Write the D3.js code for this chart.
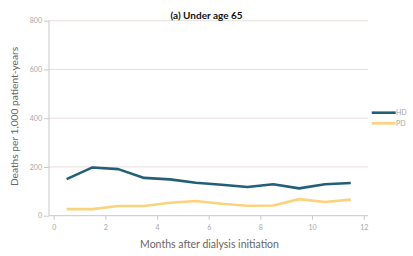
<!DOCTYPE html>
<html><head><meta charset="utf-8">
<script src="https://cdn.jsdelivr.net/npm/d3@7"></script>
<style>body{margin:0;background:#fff}svg{display:block}</style>
</head><body>
<svg id="c" width="413" height="256"></svg>
<script>
const months = [0.5,1.5,2.5,3.5,4.5,5.5,6.5,7.5,8.5,9.5,10.5,11.5];
const hdValues = [150,198,191,155,149,135,127,118,129,112,129,134];
const pdValues = [27,27,40,40,53,60,49,41,42,68,56,66];
const seriesNames = ["HD","PD"];
const seriesColors = ["#22607A","#FDD27D"];
const xTicks = [0,2,4,6,8,10,12];
const yTicks = [0,200,400,600,800];
const title = "(a) Under age 65";
const xTitle = "Months after dialysis initiation";
const yTitle = "Deaths per 1,000 patient-years";

const svg = d3.select("#c");
const x = d3.scaleLinear().domain([0,12]).range([53.7,363.7]);
const y = d3.scaleLinear().domain([0,800]).range([215.7,20.7]);
const left = 49, right = 368;
const tickColor = "#A6A6A6", axisColor = "#C8C8C8";

// gridlines
svg.append("g").selectAll("line").data(yTicks.filter(d=>d>0)).join("line")
  .attr("x1",left).attr("x2",right).attr("y1",d=>y(d)).attr("y2",d=>y(d))
  .attr("stroke","#EBDFDC").attr("stroke-width",1);

// y axis
const ya = svg.append("g").attr("transform",`translate(${left},0)`)
  .call(d3.axisLeft(y).tickValues(yTicks).tickSize(5).tickPadding(2).tickFormat(d3.format("d")));
ya.select(".domain").attr("stroke",axisColor).attr("d",`M0,${y(800)}V${y(0)}`);
ya.selectAll(".tick line").attr("stroke",axisColor);
ya.selectAll("text").attr("fill",tickColor).style("font-family","Lato, sans-serif").style("font-size","7px");

// x axis
const xa = svg.append("g").attr("transform",`translate(0,${y(0)})`)
  .call(d3.axisBottom(x).tickValues(xTicks).tickSize(4).tickPadding(5).tickFormat(d3.format("d")));
xa.select(".domain").attr("stroke",axisColor).attr("d",`M${left},0H${right}`);
xa.selectAll(".tick line").attr("stroke",axisColor);
xa.selectAll("text").attr("fill",tickColor).style("font-family","Lato, sans-serif").style("font-size","7px");

// lines
const line = d3.line().x((d,i)=>x(months[i])).y(d=>y(d));
[hdValues,pdValues].forEach((vals,k)=>{
  svg.append("path").datum(vals).attr("d",line).attr("fill","none")
    .attr("stroke",seriesColors[k]).attr("stroke-width",2.6).attr("stroke-linejoin","round");
});

// legend
const lg = svg.append("g");
seriesNames.forEach((n,k)=>{
  const ly = 112.7 + k*10.6;
  lg.append("line").attr("x1",371.7).attr("x2",395.7).attr("y1",ly).attr("y2",ly)
    .attr("stroke",seriesColors[k]).attr("stroke-width",2.6);
  lg.append("text").attr("x",396).attr("y",ly+2.4).text(n)
    .attr("fill",tickColor).style("font-family","Lato, sans-serif").style("font-size","7px");
});

// titles
svg.append("text").attr("x",206.5).attr("y",18.5).attr("text-anchor","middle").text(title)
  .style("font-family","Lato, sans-serif").style("font-weight","bold").style("font-size","10px").attr("fill","#111");
svg.append("text").attr("x",209.5).attr("y",248).attr("text-anchor","middle").text(xTitle)
  .style("font-family","Lato, sans-serif").style("font-size","10.5px").attr("fill","#666");
svg.append("text").attr("transform","translate(17.5,116.5) rotate(-90)").attr("text-anchor","middle").text(yTitle)
  .style("font-family","Lato, sans-serif").style("font-size","10.2px").attr("fill","#666");
</script>
</body></html>
